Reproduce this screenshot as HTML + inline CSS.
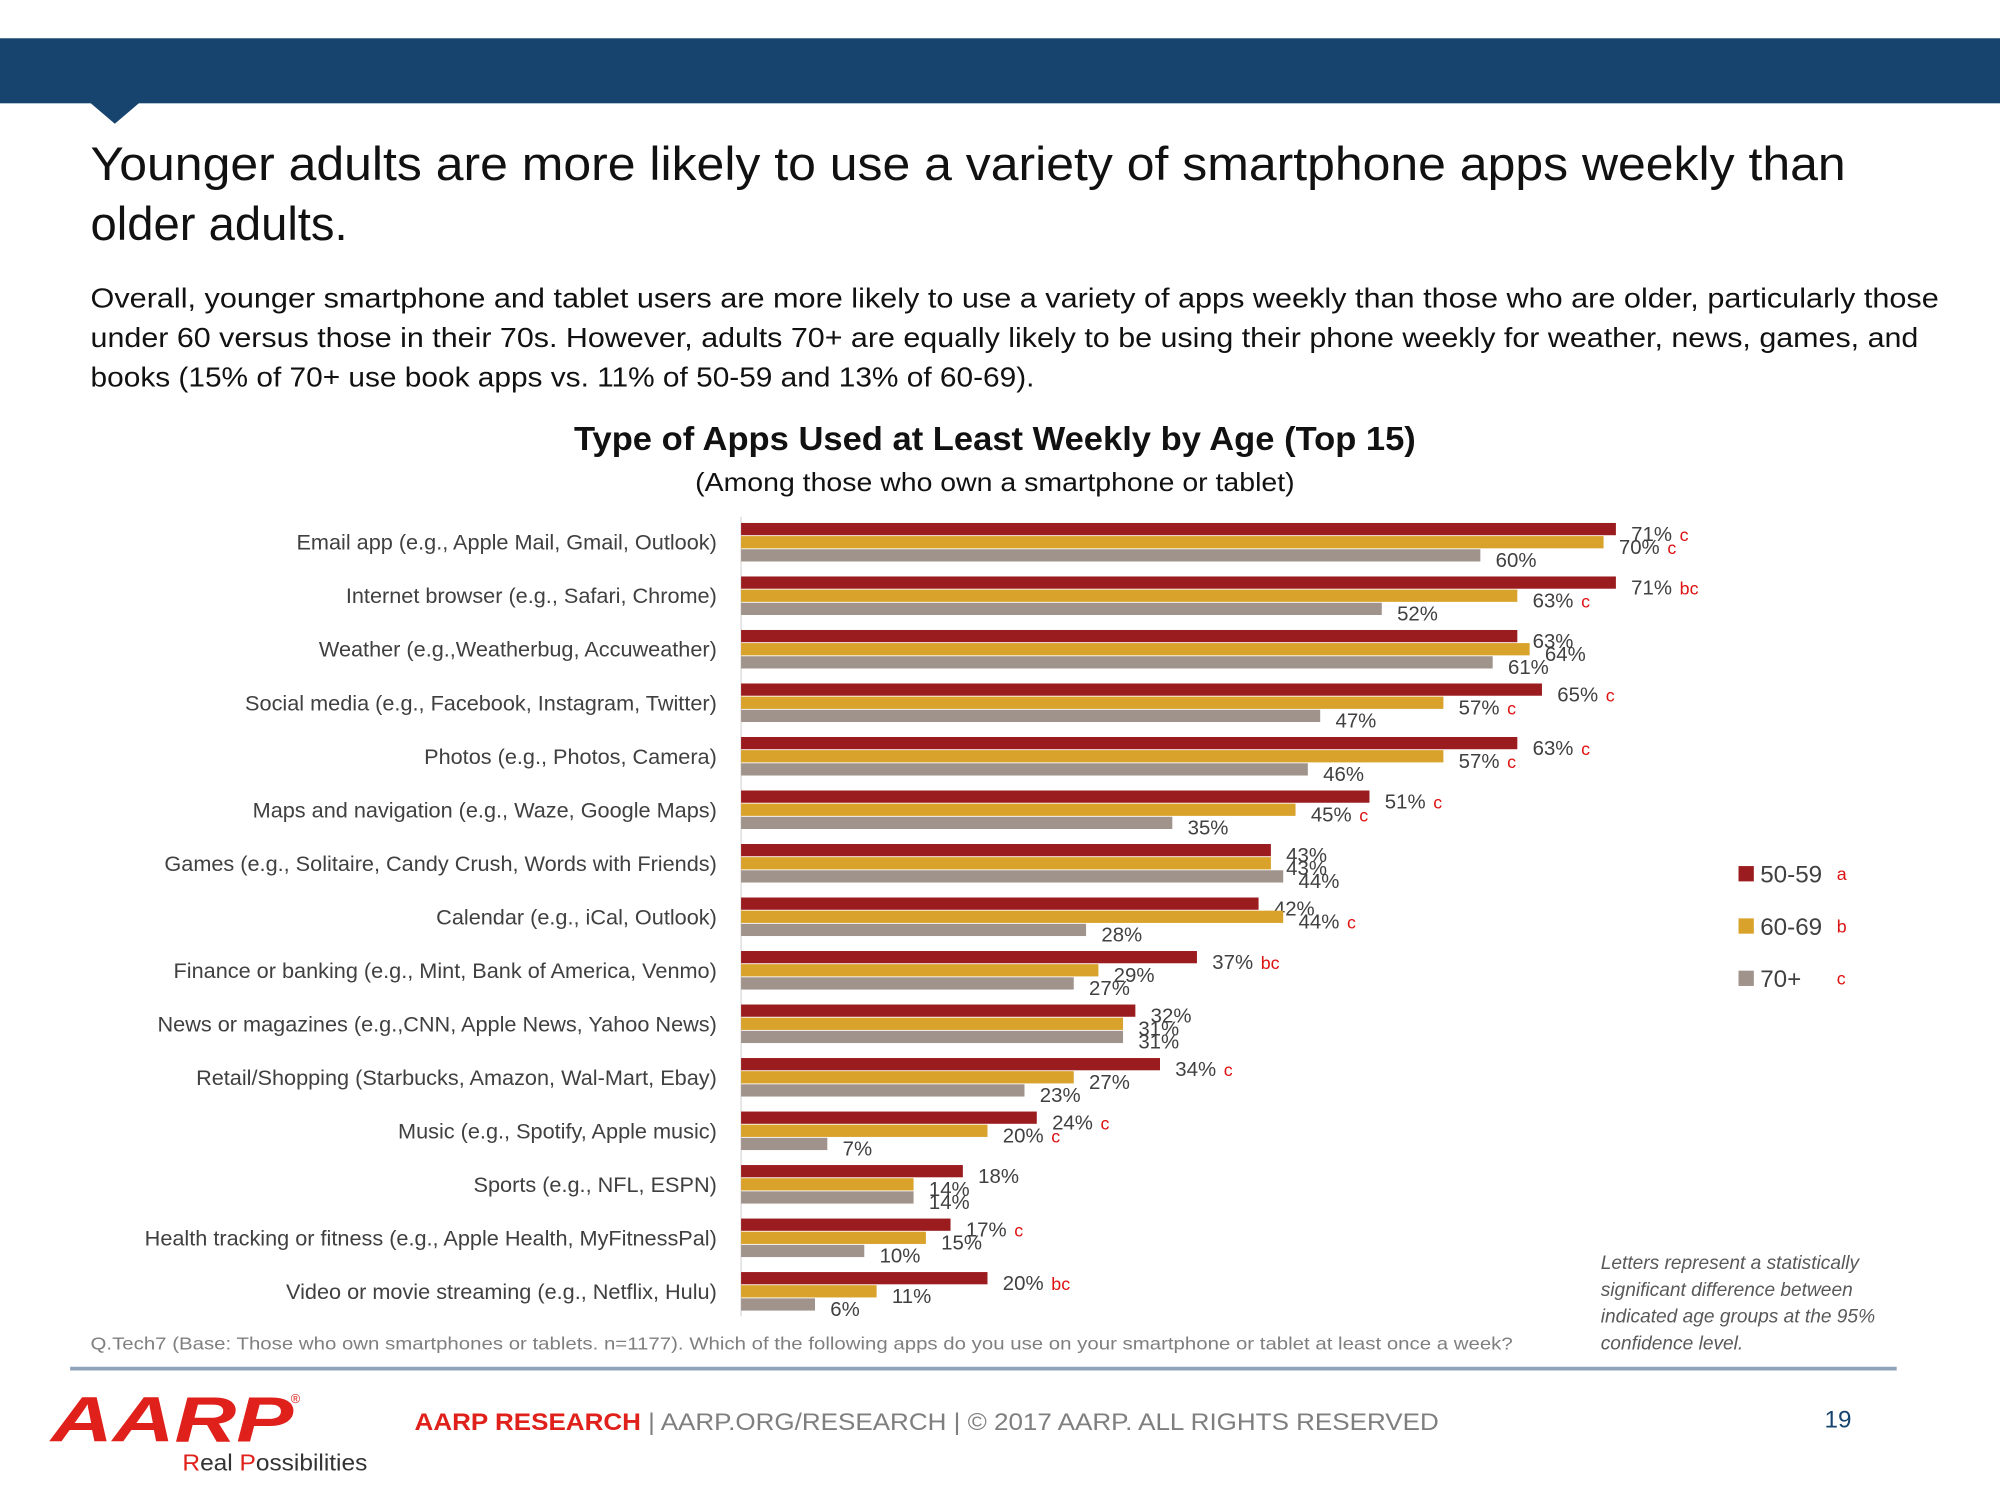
<!DOCTYPE html>
<html><head><meta charset="utf-8"><style>
html,body{margin:0;padding:0;background:#fff;}
svg{display:block;font-family:"Liberation Sans",sans-serif;}
</style></head><body>
<svg id="s" width="2000" height="1500" viewBox="0 0 1568 1176" xmlns="http://www.w3.org/2000/svg">
<rect x="0" y="30" width="1568" height="51" fill="#17446e"/>
<polygon points="70,80 110,80 90,97" fill="#17446e"/>
<g font-size="37" fill="#111">
<text x="71" y="141" textLength="1376" lengthAdjust="spacingAndGlyphs">Younger adults are more likely to use a variety of smartphone apps weekly than</text>
<text x="71" y="188">older adults.</text></g>
<g font-size="22" fill="#111">
<text x="71" y="241" textLength="1449" lengthAdjust="spacingAndGlyphs">Overall, younger smartphone and tablet users are more likely to use a variety of apps weekly than those who are older, particularly those</text>
<text x="71" y="272" textLength="1433" lengthAdjust="spacingAndGlyphs">under 60 versus those in their 70s. However, adults 70+ are equally likely to be using their phone weekly for weather, news, games, and</text>
<text x="71" y="303" textLength="740" lengthAdjust="spacingAndGlyphs">books (15% of 70+ use book apps vs. 11% of 50-59 and 13% of 60-69).</text></g>
<text x="780" y="353" text-anchor="middle" font-size="26" font-weight="bold" fill="#111" textLength="660" lengthAdjust="spacingAndGlyphs">Type of Apps Used at Least Weekly by Age (Top 15)</text>
<text x="780" y="385" text-anchor="middle" font-size="20" fill="#111" textLength="470" lengthAdjust="spacingAndGlyphs">(Among those who own a smartphone or tablet)</text>
<line x1="581" y1="405" x2="581" y2="1032" stroke="#d9d9d9" stroke-width="1"/>
<g id="chart"></g>
<g font-size="19" fill="#404040">
<g><rect x="1363" y="679" width="12" height="12" fill="#9b1c1f"/><text x="1380" y="692">50-59</text><text x="1440" y="690" font-size="14" fill="#d11">a</text></g>
<g><rect x="1363" y="720" width="12" height="12" fill="#d9a22a"/><text x="1380" y="733">60-69</text><text x="1440" y="731" font-size="14" fill="#d11">b</text></g>
<g><rect x="1363" y="761" width="12" height="12" fill="#a0938b"/><text x="1380" y="774">70+</text><text x="1440" y="772" font-size="14" fill="#d11">c</text></g>
</g>
<g font-size="15" font-style="italic" fill="#595959">
<text x="1255" y="995">Letters represent a statistically</text>
<text x="1255" y="1016">significant difference between</text>
<text x="1255" y="1037">indicated age groups at the 95%</text>
<text x="1255" y="1058">confidence level.</text></g>
<text x="71" y="1058" font-size="14" fill="#7f7f7f" textLength="1115" lengthAdjust="spacingAndGlyphs">Q.Tech7 (Base: Those who own smartphones or tablets. n=1177). Which of the following apps do you use on your smartphone or tablet at least once a week?</text>
<line x1="55" y1="1073" x2="1487" y2="1073" stroke="#8fa3ba" stroke-width="3"/>
<g>
<text x="40" y="1130" font-size="50" font-weight="bold" font-style="italic" fill="#e0201b" textLength="190" lengthAdjust="spacingAndGlyphs">AARP</text>
<text x="228" y="1100" font-size="10" fill="#e0201b">®</text>
<text x="143" y="1153" font-size="18" fill="#333" textLength="145" lengthAdjust="spacingAndGlyphs"><tspan fill="#e0201b">R</tspan>eal <tspan fill="#e0201b">P</tspan>ossibilities</text></g>
<text x="325" y="1121" font-size="19" fill="#7f7f7f" textLength="803" lengthAdjust="spacingAndGlyphs"><tspan font-weight="bold" fill="#e0201b">AARP RESEARCH</tspan>  |  AARP.ORG/RESEARCH  |  © 2017 AARP. ALL RIGHTS RESERVED</text>
<text x="1441" y="1119" font-size="19" fill="#17446e" text-anchor="middle">19</text>
</svg>
<script>
const categories=["Email app (e.g., Apple Mail, Gmail, Outlook)","Internet browser (e.g., Safari, Chrome)","Weather (e.g.,Weatherbug, Accuweather)","Social media (e.g., Facebook, Instagram, Twitter)","Photos (e.g., Photos, Camera)","Maps and navigation (e.g., Waze, Google Maps)","Games (e.g., Solitaire, Candy Crush, Words with Friends)","Calendar (e.g., iCal, Outlook)","Finance or banking (e.g., Mint, Bank of America, Venmo)","News or magazines (e.g.,CNN, Apple News, Yahoo News)","Retail/Shopping (Starbucks, Amazon, Wal-Mart, Ebay)","Music (e.g., Spotify, Apple music)","Sports (e.g., NFL, ESPN)","Health tracking or fitness (e.g., Apple Health, MyFitnessPal)","Video or movie streaming (e.g., Netflix, Hulu)"];
const age5059=[71,71,63,65,63,51,43,42,37,32,34,24,18,17,20];
const age6069=[70,63,64,57,57,45,43,44,29,31,27,20,14,15,11];
const age70p=[60,52,61,47,46,35,44,28,27,31,23,7,14,10,6];
const sig5059=["c","bc","","c","c","c","","","bc","","c","c","","c","bc"];
const sig6069=["c","c","","c","c","c","","c","","","","c","","",""];
const sig70p=["","","","","","","","","","","","","","",""];
const NS="http://www.w3.org/2000/svg";
const g=document.getElementById('chart');
const xs=v=>581+v*9.66;
const yg=i=>410+i*41.95;
function mk(t,a){const e=document.createElementNS(NS,t);for(const k in a)e.setAttribute(k,a[k]);return e;}
const series=[[age5059,sig5059,"#9b1c1f","50-59"],[age6069,sig6069,"#d9a22a","60-69"],[age70p,sig70p,"#a0938b","70plus"]];
categories.forEach((c,i)=>{
 const lab=mk('text',{x:562,y:yg(i)+21,'text-anchor':'end','font-size':17,fill:'#404040'});
 lab.textContent=c;
 
 
 g.appendChild(lab);
 series.forEach((s,j)=>{
  const v=s[0][i],y=yg(i)+j*10.3;
  const r=mk('rect',{x:581,y:y,width:xs(v)-581,height:9.6,fill:s[2]});
  
  
  g.appendChild(r);
  const t=mk('text',{x:xs(v)+12,y:y+14,'font-size':16,fill:'#404040'});
  t.textContent=v+'%';
  if(s[1][i]){const sp=mk('tspan',{fill:'#d11','font-size':14,dx:6});sp.textContent=s[1][i];t.appendChild(sp);}
  
  
  g.appendChild(t);
 });
});
</script>
</body></html>
